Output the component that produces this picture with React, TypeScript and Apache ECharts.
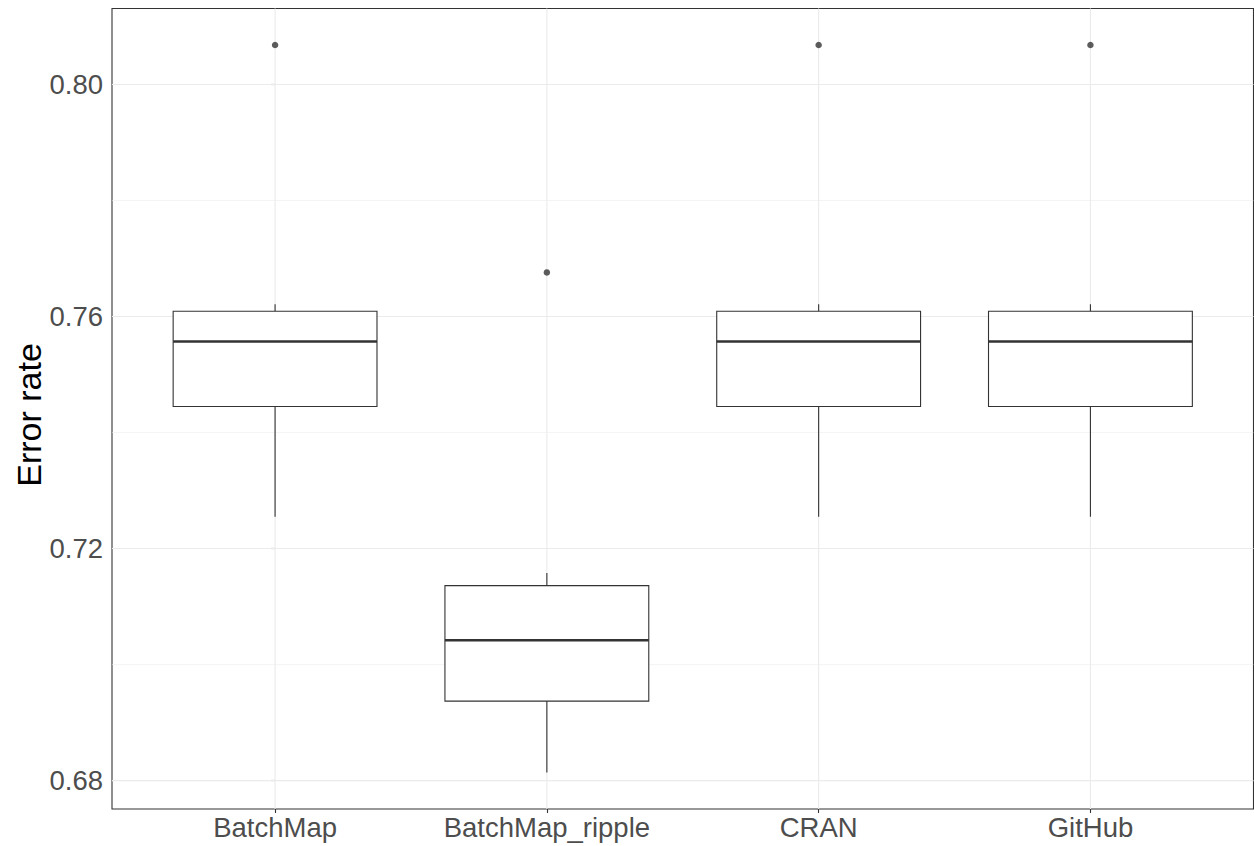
import React, { useEffect, useRef } from "react";
import * as echarts from "echarts";

const categories = ["BatchMap", "BatchMap_ripple", "CRAN", "GitHub"];
// [lower whisker, Q1, median, Q3, upper whisker]
const boxStats = [
  [0.7255, 0.7445, 0.7557, 0.7609, 0.7621],
  [0.6814, 0.6937, 0.7042, 0.7136, 0.7158],
  [0.7255, 0.7445, 0.7557, 0.7609, 0.7621],
  [0.7255, 0.7445, 0.7557, 0.7609, 0.7621],
];
// [category index, value]
const outliers = [
  [0, 0.8068],
  [1, 0.7676],
  [2, 0.8068],
  [3, 0.8068],
];
const yMajorTicks = [0.68, 0.72, 0.76, 0.8];
const yMinorTicks = [0.7, 0.74, 0.78];
const yMin = 0.6751;
const yMax = 0.8131;
const yTitle = "Error rate";

const FONT = "'Liberation Sans', Arial, Helvetica, sans-serif";

export default function App() {
  const ref = useRef<HTMLDivElement>(null);
  useEffect(() => {
    document.body.style.margin = "0";
    if (!ref.current) return;
    const chart = echarts.init(ref.current, null, { renderer: "svg" });
    const catIdx = categories.map((_, i) => i);

    const hLine = (lw: number) => (params: any, api: any) => {
      const cs = params.coordSys;
      const p = api.coord([0, api.value(0)]);
      return {
        type: "line",
        shape: { x1: cs.x, y1: p[1], x2: cs.x + cs.width, y2: p[1] },
        style: { stroke: "#ebebeb", lineWidth: lw },
        silent: true,
      };
    };

    chart.setOption({
      animation: false,
      backgroundColor: "#ffffff",
      grid: {
        left: 112,
        top: 8.5,
        width: 1141.5,
        height: 800.5,
        show: true,
        borderColor: "#333333",
        borderWidth: 1.1,
        backgroundColor: "#ffffff",
        containLabel: false,
      },
      xAxis: {
        type: "value",
        min: -0.6,
        max: 3.6,
        splitLine: { show: false },
        axisLine: { show: false },
        axisTick: {
          show: true,
          customValues: catIdx,
          length: 4,
          lineStyle: { color: "#333333", width: 1.1 },
        },
        axisLabel: {
          customValues: catIdx,
          formatter: (v: number) => categories[Math.round(v)] ?? "",
          fontFamily: FONT,
          fontSize: 27.5,
          color: "#4d4d4d",
          margin: 4,
        },
      },
      yAxis: {
        type: "value",
        min: yMin,
        max: yMax,
        splitLine: { show: false },
        axisLine: { show: false },
        axisTick: {
          show: true,
          customValues: yMajorTicks,
          length: 4,
          lineStyle: { color: "#333333", width: 1.1 },
        },
        axisLabel: {
          customValues: yMajorTicks,
          formatter: (v: number) => v.toFixed(2),
          fontFamily: FONT,
          fontSize: 27.5,
          color: "#4d4d4d",
          margin: 9,
        },
      },
      graphic: [
        {
          type: "text",
          x: 29,
          y: 415,
          rotation: Math.PI / 2,
          style: {
            text: yTitle,
            font: `34px ${FONT}`,
            fill: "#000000",
            textAlign: "center",
            textVerticalAlign: "middle",
          },
        },
      ],
      series: [
        {
          type: "custom",
          z: 1,
          silent: true,
          data: yMinorTicks.map((v) => [v]),
          encode: { y: 0 },
          renderItem: hLine(0.55),
        },
        {
          type: "custom",
          z: 1,
          silent: true,
          data: yMajorTicks.map((v) => [v]),
          encode: { y: 0 },
          renderItem: hLine(1.1),
        },
        {
          type: "custom",
          z: 1,
          silent: true,
          data: catIdx.map((i) => [i]),
          encode: { x: 0 },
          renderItem: (params: any, api: any) => {
            const cs = params.coordSys;
            const p = api.coord([api.value(0), yMin]);
            return {
              type: "line",
              shape: { x1: p[0], y1: cs.y, x2: p[0], y2: cs.y + cs.height },
              style: { stroke: "#ebebeb", lineWidth: 1.1 },
              silent: true,
            };
          },
        },
        {
          type: "custom",
          z: 3,
          data: boxStats.map((s, i) => [i, ...s]),
          encode: { x: 0, y: [1, 2, 3, 4, 5] },
          renderItem: (params: any, api: any) => {
            const x = api.value(0);
            const lo = api.coord([x, api.value(1)]);
            const q1 = api.coord([x, api.value(2)]);
            const med = api.coord([x, api.value(3)]);
            const q3 = api.coord([x, api.value(4)]);
            const hi = api.coord([x, api.value(5)]);
            const half = api.size([0.75, 0])[0] / 2;
            const cx = lo[0];
            const stroke = "#333333";
            return {
              type: "group",
              children: [
                {
                  type: "line",
                  shape: { x1: cx, y1: q3[1], x2: cx, y2: hi[1] },
                  style: { stroke, lineWidth: 1.1 },
                },
                {
                  type: "line",
                  shape: { x1: cx, y1: q1[1], x2: cx, y2: lo[1] },
                  style: { stroke, lineWidth: 1.1 },
                },
                {
                  type: "rect",
                  shape: { x: cx - half, y: q3[1], width: half * 2, height: q1[1] - q3[1] },
                  style: { fill: "#ffffff", stroke, lineWidth: 1.1 },
                },
                {
                  type: "line",
                  shape: { x1: cx - half, y1: med[1], x2: cx + half, y2: med[1] },
                  style: { stroke, lineWidth: 2.6 },
                },
              ],
            };
          },
        },
        {
          type: "scatter",
          z: 4,
          data: outliers,
          symbol: "circle",
          symbolSize: 6.5,
          itemStyle: { color: "#333333" },
        },
      ],
    });
    return () => chart.dispose();
  }, []);
  return <div ref={ref} style={{ width: 1254, height: 846 }} />;
}
